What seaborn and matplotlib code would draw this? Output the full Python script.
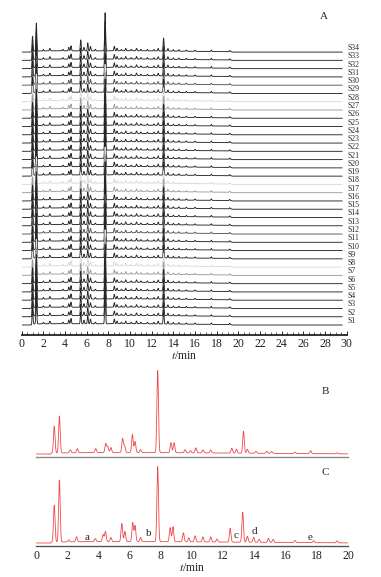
import numpy as np
import pandas as pd
import matplotlib
matplotlib.use('Agg')
import matplotlib.pyplot as plt
import seaborn as sns
from matplotlib.ticker import MultipleLocator

# ---- data -------------------------------------------------------------
# panel A: 34 batches, stacked fingerprints
samples = ['S%d' % i for i in range(1, 35)]
# relative response of each batch
sample_scale = [1.05, 1.0, 1.0, 1.0, 1.0, 1.0, 0.95, 0.95, 1.0, 1.0,
                1.0, 1.0, 1.0, 1.0, 1.0, 1.0, 0.95, 0.95, 1.0, 1.0,
                1.0, 1.0, 1.0, 1.0, 1.0, 1.0, 0.95, 0.95, 1.0, 1.0,
                1.0, 1.0, 1.0, 1.0]

# common peaks of panel A: retention time (min) and height
peaks_a_time = [1.0, 1.35, 2.0, 2.6, 3.8, 4.35, 4.55, 5.45, 5.75, 6.1,
                6.35, 6.8, 7.7, 8.55, 8.8, 9.2, 9.6, 10.1, 10.6, 11.0,
                11.6, 12.2, 12.6, 13.1, 13.5, 14.0, 14.5, 15.2, 16.0, 17.5,
                19.2]
peaks_a_height = [15, 28, 1.5, 2.5, 1.5, 3.5, 5, 11, 3.5, 8,
                  4.5, 1.5, 38, 4.5, 2.5, 1.5, 2.5, 1.5, 2.5, 1.5,
                  1.5, 1.5, 2.5, 13, 2.5, 1.5, 1.5, 1.2, 1.2, 1.5,
                  1.2]
hump_a_time = [3.0, 10.0, 16.0]
hump_a_height = [1.2, 1.2, 0.6]
run_a_end = 29.6

# panel B: reference fingerprint
peaks_b_time = [1.17, 1.5, 2.2, 2.65, 3.83, 4.47, 4.6, 4.8, 5.55, 5.68,
                6.18, 6.35, 6.7, 7.8, 8.65, 8.85, 9.55, 9.9, 10.25, 10.7,
                11.2, 12.55, 12.85, 13.3, 13.55, 14.1, 14.8, 15.1, 16.6, 17.6,
                19.3]
peaks_b_height = [27, 37, 3, 4, 4, 9, 6, 5, 14, 7,
                  18, 11, 3, 82, 10, 10, 3, 2, 5, 3,
                  3, 5, 4, 22, 4, 2, 2, 2, 1.5, 3,
                  1]

# panel C: sample chromatogram with marked peaks a-e
peaks_c_time = [1.17, 1.5, 2.1, 2.6, 3.8, 4.3, 4.45, 4.8, 5.5, 5.7,
                6.2, 6.35, 6.7, 7.8, 8.6, 8.78, 9.45, 9.8, 10.2, 10.7,
                11.2, 11.6, 12.45, 13.25, 13.55, 13.95, 14.3, 14.9, 15.2, 16.6,
                17.8, 19.3]
peaks_c_height = [37, 62, 2, 5, 3, 7, 10, 4, 18, 10,
                  19, 16, 4, 75, 14, 15, 9, 4, 6, 5,
                  5, 3, 14, 30, 6, 5, 3, 4, 3, 2,
                  2, 2]
hump_bc_time = [3.5, 9.0, 15.0]
hump_bc_height = [1.2, 1.0, 0.5]

mark_labels = ['a', 'b', 'c', 'd', 'e']
mark_time = [3.3, 7.2, 12.8, 14.0, 17.6]
mark_height = [6, 10, 7, 12, 6]


def chromatogram(t, times, heights, hump_t, hump_h, scale=1.0, sd=0.04):
    y = np.zeros_like(t)
    for rt, h in zip(times, heights):
        y += scale * h * np.exp(-0.5 * ((t - rt) / sd) ** 2)
    for rt, h in zip(hump_t, hump_h):
        y += h * np.exp(-0.5 * ((t - rt) / 3.0) ** 2) * (t > 0.95)
    return y


# ---- style ------------------------------------------------------------
sns.set_theme(style='white')
plt.rcParams['font.family'] = ['Liberation Serif', 'DejaVu Serif']
plt.rcParams['mathtext.fontset'] = 'stix'

W, H = 381, 577
fig = plt.figure(figsize=(W / 100, H / 100), dpi=100)

# ---- panel A ----------------------------------------------------------
axA = fig.add_axes([21.7 / W, (H - 334.7) / H, 325 / W, 334.7 / H])
t_a = np.arange(0, run_a_end, 0.01)
step = 8.27
light = {'S8': '#d9d9d9', 'S18': '#d9d9d9', 'S28': '#d9d9d9',
         'S7': '#9c9c9c', 'S17': '#9c9c9c', 'S27': '#9c9c9c',
         'S30': '#555555', 'S12': '#555555'}
for i in range(len(samples) - 1, -1, -1):
    name = samples[i]
    base = 9.7 + i * step
    y = chromatogram(t_a, peaks_a_time, peaks_a_height,
                     hump_a_time, hump_a_height, sample_scale[i])
    y[t_a > 19.4] = 0
    sns.lineplot(x=t_a, y=base + y, ax=axA, color=light.get(name, '#262626'),
                 lw=0.65, estimator=None, sort=False)
    axA.text(30.1, base + 4, name, fontsize=5.6, ha='left', va='center',
             clip_on=False)

axA.set_xlim(0, 30)
axA.set_ylim(0, 334.7)
for s in ['top', 'left', 'right']:
    axA.spines[s].set_visible(False)
axA.spines['bottom'].set_color('#222222')
axA.spines['bottom'].set_linewidth(1.3)
axA.xaxis.set_major_locator(MultipleLocator(2))
axA.xaxis.set_minor_locator(MultipleLocator(0.5))
axA.tick_params(axis='x', which='major', direction='in', length=3, width=0.7,
                pad=2.5, labelsize=8.5, bottom=True, colors='#222222')
axA.tick_params(axis='x', which='minor', direction='in', length=2, width=0.5,
                bottom=True, colors='#222222')
axA.set_yticks([])
axA.set_xlabel('$t$/min', fontsize=8.5, labelpad=0)
axA.set_ylabel('')
axA.text(0.93, 0.95, 'A', transform=axA.transAxes, fontsize=8, ha='center',
         va='center')

# ---- panels B and C ---------------------------------------------------
t_bc = np.arange(0, 20, 0.005)
red = '#ef4848'

axB = fig.add_axes([36 / W, (H - 457) / H, 312 / W, 89 / H])
yb = chromatogram(t_bc, peaks_b_time, peaks_b_height, hump_bc_time,
                  hump_bc_height, sd=0.05)
sns.lineplot(x=t_bc, y=yb, ax=axB, color=red, lw=0.6, estimator=None, sort=False)
axB.set_xlim(0, 20)
axB.set_ylim(-3, 86)
for s in ['top', 'left', 'right']:
    axB.spines[s].set_visible(False)
axB.spines['bottom'].set_color('#8a8a8a')
axB.spines['bottom'].set_linewidth(1.0)
axB.set_xticks([])
axB.set_yticks([])
axB.set_xlabel('')
axB.set_ylabel('')
axB.text(0.928, 0.74, 'B', transform=axB.transAxes, fontsize=8, ha='center',
         va='center')

axC = fig.add_axes([36 / W, (H - 546) / H, 312 / W, 86 / H])
yc = chromatogram(t_bc, peaks_c_time, peaks_c_height, hump_bc_time,
                  hump_bc_height, sd=0.05)
sns.lineplot(x=t_bc, y=yc, ax=axC, color=red, lw=0.6, estimator=None, sort=False)
for lab, tm, h in zip(mark_labels, mark_time, mark_height):
    axC.text(tm, h, lab, fontsize=8, ha='center', va='center')
axC.set_xlim(0, 20)
axC.set_ylim(-3, 83)
for s in ['top', 'left', 'right']:
    axC.spines[s].set_visible(False)
axC.spines['bottom'].set_color('#555555')
axC.spines['bottom'].set_linewidth(1.0)
axC.xaxis.set_major_locator(MultipleLocator(2))
axC.tick_params(axis='x', length=0, pad=3, labelsize=8.5, colors='#222222')
axC.set_yticks([])
axC.set_xlabel('$t$/min', fontsize=8.5, labelpad=0)
axC.set_ylabel('')
axC.text(0.928, 0.85, 'C', transform=axC.transAxes, fontsize=8, ha='center',
         va='center')

fig.savefig('out.png', dpi=100, facecolor='white')
